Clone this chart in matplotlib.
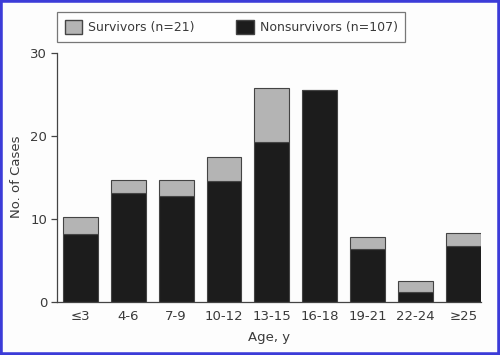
import matplotlib
matplotlib.use('Agg')
from matplotlib import pyplot as plt
from matplotlib import patches as mpatches

# age groups and case counts
ages = ['≤3', '4-6', '7-9', '10-12', '13-15', '16-18', '19-21', '22-24', '≥25']
nonsurvivors = [8.2, 13.1, 12.7, 14.5, 19.2, 25.5, 6.4, 1.2, 6.7]
survivors = [2.0, 1.5, 2.0, 2.9, 6.5, 0.0, 1.4, 1.3, 1.6]

gray = '#b4b4b4'
black = '#1c1c1c'
txt = '#3a3a3a'

plt.rcParams['font.family'] = ['DejaVu Sans']

fig = plt.figure(figsize=(5, 3.55), dpi=100, facecolor='#fdfdfd')
ax = fig.add_axes([0.114, 0.150, 0.848, 0.702])
ax.set_facecolor('#fdfdfd')

x = range(len(ages))
ax.bar(x, nonsurvivors, width=0.73, color=black, edgecolor='#444444', linewidth=0.8)
ax.bar(x, survivors, width=0.73, bottom=nonsurvivors, color=gray, edgecolor='#444444', linewidth=0.8)

ax.set_xlim(-0.49, 8.37)
ax.set_ylim(0, 30)
ax.set_yticks([0, 10, 20, 30])
ax.set_xticks(list(x))
ax.set_xticklabels(ages)
ax.tick_params(axis='x', length=0, pad=6, labelsize=9.5, labelcolor=txt)
ax.tick_params(axis='y', length=4, width=0.9, color='#444444', pad=3, labelsize=9.5, labelcolor=txt)
for s in ['top', 'right']:
    ax.spines[s].set_visible(False)
for s in ['left', 'bottom']:
    ax.spines[s].set_color('#444444')
    ax.spines[s].set_linewidth(0.9)

ax.set_ylabel('No. of Cases', fontsize=9.5, color=txt, labelpad=5)
ax.set_xlabel('Age, y', fontsize=9.5, color=txt, labelpad=6)

handles = [mpatches.Patch(facecolor=gray, edgecolor='#444444', label='Survivors (n=21)'),
           mpatches.Patch(facecolor=black, edgecolor='#444444', label='Nonsurvivors (n=107)')]
leg = fig.legend(handles=handles, ncol=2, loc='upper left', bbox_to_anchor=(0.114, 0.966),
                 borderaxespad=0, fontsize=9, frameon=True, fancybox=False, edgecolor='#555555',
                 handlelength=1.4, handleheight=1.4, columnspacing=3.3, borderpad=0.6,
                 handletextpad=0.5)
leg.get_frame().set_linewidth(0.9)
for t in leg.get_texts():
    t.set_color(txt)

# blue frame round the picture
fig.patches.append(mpatches.Rectangle((0, 0), 1, 1, transform=fig.transFigure, fill=False,
                                      edgecolor='#3c3cd8', linewidth=4))

fig.savefig('out.png', dpi=100, facecolor=fig.get_facecolor())
